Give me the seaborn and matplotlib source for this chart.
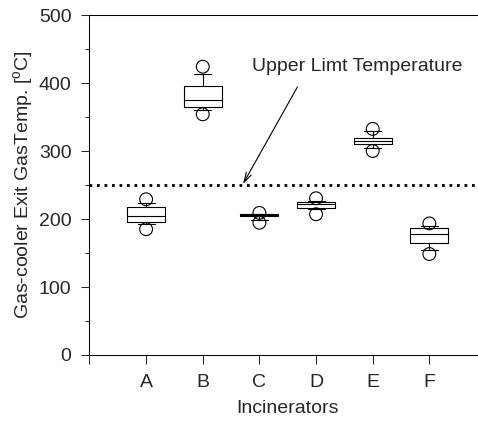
import matplotlib
matplotlib.use('Agg')
import matplotlib.pyplot as plt
from matplotlib.ticker import MultipleLocator
import seaborn as sns

# box plot values (SigmaPlot style: whiskers 10/90th, circles 5/95th)
incinerators = ['A', 'B', 'C', 'D', 'E', 'F']
p5 = [185, 354, 194.5, 207, 300, 148.5]
p10 = [193, 360, 198.5, 214.7, 304, 155]
q1 = [195, 364, 204.5, 216.6, 310, 164.5]
med = [204, 375, 206, 222, 314.5, 178]
q3 = [217, 396, 207, 225.5, 319.5, 187.5]
p90 = [224, 413, 207.5, 226.5, 329.5, 190]
p95 = [229, 424, 209, 230.5, 332.5, 193.5]
upper_limit = 250

sns.set_style('ticks')
plt.rcParams['font.family'] = ['Liberation Sans', 'DejaVu Sans']
plt.rcParams['mathtext.default'] = 'regular'

fs = 14
fig = plt.figure(figsize=(4.78, 4.29), dpi=100)
ax = fig.add_axes([0.1872, 0.1725, 0.8295, 0.7925])

positions = list(range(1, len(incinerators) + 1))
stats = []
for i in range(len(incinerators)):
    stats.append({'whislo': p10[i], 'q1': q1[i], 'med': med[i], 'q3': q3[i],
                  'whishi': p90[i], 'fliers': []})

lw = 0.8
ax.bxp(stats, positions=positions, widths=0.67, capwidths=0.3, showfliers=False,
       boxprops=dict(color='black', linewidth=lw),
       medianprops=dict(color='black', linewidth=lw),
       whiskerprops=dict(color='black', linewidth=lw),
       capprops=dict(color='black', linewidth=lw))

# 5th / 95th percentile circles
sns.scatterplot(x=positions + positions, y=p5 + p95, ax=ax, marker='o', s=85,
                facecolor='none', edgecolor='black', linewidth=0.8, zorder=3)

ax.axhline(upper_limit, color='black', linewidth=2, linestyle=(0, (1, 1.7)),
           dash_capstyle='butt')

ax.annotate('', xy=(2.71, 251.5), xytext=(3.67, 394),
            arrowprops=dict(arrowstyle='->,head_length=0.7,head_width=0.2',
                            color='black', lw=0.8, shrinkA=0, shrinkB=0))
ax.text(4.73, 425, 'Upper Limt Temperature', ha='center', va='center', fontsize=fs)

ax.set_xlim(0, 7)
ax.set_ylim(0, 500)
ax.set_xticks(range(0, 7))
ax.set_xticklabels([''] + incinerators)
ax.yaxis.set_major_locator(MultipleLocator(100))
ax.yaxis.set_minor_locator(MultipleLocator(50))

ax.tick_params(axis='x', direction='out', length=6.5, width=0.75, pad=7, labelsize=fs)
ax.tick_params(axis='y', which='major', direction='out', length=6, width=0.75, pad=7, labelsize=fs)
ax.tick_params(axis='y', which='minor', direction='out', length=3, width=0.75)

for side in ['left', 'bottom', 'top']:
    ax.spines[side].set_linewidth(0.75)
    ax.spines[side].set_color('black')
ax.spines['right'].set_visible(False)

ax.set_xlabel('Incinerators', fontsize=fs, labelpad=7)
ax.set_ylabel(r'Gas-cooler Exit GasTemp. [$^{o}$C]', fontsize=fs, labelpad=3)

fig.savefig('out.png', dpi=100)
